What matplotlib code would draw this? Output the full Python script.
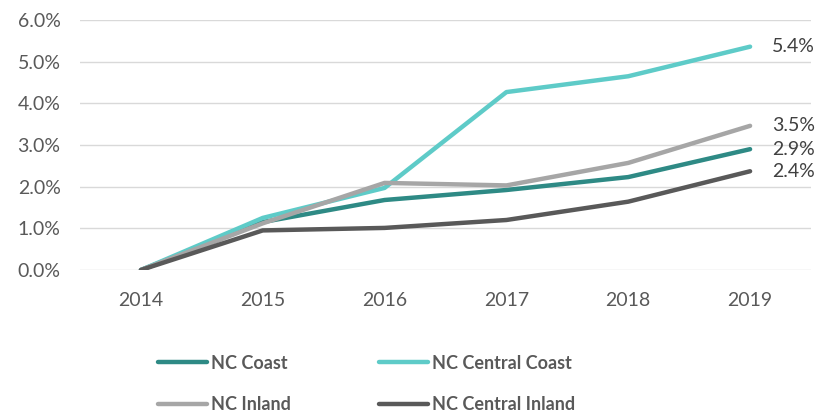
import matplotlib
matplotlib.use('Agg')
import matplotlib.pyplot as plt
from matplotlib.ticker import PercentFormatter

plt.rcParams['font.family'] = ['Lato', 'DejaVu Sans']

# Data (percent change since 2014)
years = ['2014', '2015', '2016', '2017', '2018', '2019']
nc_coast = [0.0, 1.15, 1.68, 1.92, 2.23, 2.90]
nc_central_coast = [0.0, 1.25, 1.97, 4.27, 4.65, 5.36]
nc_inland = [0.0, 1.12, 2.09, 2.03, 2.57, 3.46]
nc_central_inland = [0.0, 0.95, 1.01, 1.20, 1.64, 2.37]
end_labels = ['2.9%', '5.4%', '3.5%', '2.4%']

series = [
    ('NC Coast', nc_coast, '#2E8A85'),
    ('NC Central Coast', nc_central_coast, '#5ECBC8'),
    ('NC Inland', nc_inland, '#A6A6A6'),
    ('NC Central Inland', nc_central_inland, '#595959'),
]

fig = plt.figure(figsize=(8.22, 4.17), dpi=100)
ax = fig.add_axes([80 / 822, 1 - 270 / 417, 731 / 822, 250 / 417])

x = range(len(years))
lines = {}
for (name, vals, color), lab in zip(series, end_labels):
    ln, = ax.plot(x, vals, color=color, lw=3.2, solid_capstyle='round',
                  solid_joinstyle='round', label=name)
    lines[name] = ln
    ax.text(len(years) - 1 + 0.18, vals[-1], lab, va='center', ha='left',
            fontsize=14, color='#404040')

ax.set_xlim(-0.5, len(years) - 0.5)
ax.set_ylim(0, 6)
ax.set_yticks([0, 1, 2, 3, 4, 5, 6])
ax.yaxis.set_major_formatter(PercentFormatter(decimals=1))
ax.set_xticks(list(x))
ax.set_xticklabels(years)
ax.grid(axis='y', color='#D9D9D9', lw=1)
ax.set_axisbelow(True)
for s in ax.spines.values():
    s.set_visible(False)
ax.tick_params(length=0, labelsize=14, colors='#595959')
ax.tick_params(axis='x', pad=16)
ax.tick_params(axis='y', pad=14)

order = ['NC Coast', 'NC Inland', 'NC Central Coast', 'NC Central Inland']
leg = fig.legend([lines[n] for n in order], order, ncol=2, frameon=False,
                 loc='center left', bbox_to_anchor=(149 / 822, 1 - 384 / 417),
                 prop={'weight': 'bold', 'size': 13},
                 handlelength=2.7, handletextpad=0.22, labelspacing=1.35,
                 columnspacing=4.9, borderpad=0)
for t in leg.get_texts():
    t.set_color('#595959')

fig.savefig('out.png', dpi=100)
